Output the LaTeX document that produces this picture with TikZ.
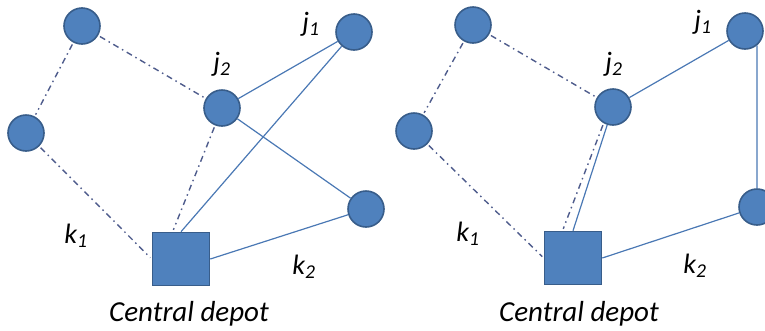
\documentclass[tikz,border=0pt]{standalone}
\usepackage{fontspec}
\setmainfont{Carlito}
\definecolor{NodeClr}{RGB}{79,129,189}
\definecolor{RimClr}{RGB}{56,93,138}
\definecolor{EdgeClr}{RGB}{74,120,180}
\definecolor{TourClr}{RGB}{78,92,140}
\tikzset{
  cust/.style={circle,fill=NodeClr,draw=RimClr,line width=1.6pt,minimum size=36pt,inner sep=0pt},
  depot/.style={rectangle,fill=NodeClr,draw=RimClr,line width=1.6pt,minimum width=57pt,minimum height=53pt,inner sep=0pt},
  route/.style={draw=EdgeClr,line width=1.2pt},
  oldroute/.style={draw=TourClr,line width=1.4pt,dash pattern=on 6pt off 4pt on 1.5pt off 4pt,shorten <=2pt,shorten >=2pt},
  lbl/.style={font=\fontsize{28}{30}\selectfont\itshape,inner sep=0pt},
  depotlbl/.style={font=\fontsize{29}{31}\selectfont\itshape,inner sep=0pt,anchor=base}
}
\begin{document}
\begin{tikzpicture}[x=1pt,y=-1pt]
\useasboundingbox (0,0) rectangle (765,330);

\node[cust] (a1) at (82,26) {};
\node[cust] (b1) at (26,133) {};
\node[cust] (jtwo1) at (222,108) {};
\node[cust] (jone1) at (354,32) {};
\node[cust] (r1) at (366,209) {};
\node[depot] (dep1) at (181,259) {};

\draw[oldroute] (a1) -- (b1);
\draw[oldroute] (a1) -- (jtwo1);
\draw[oldroute] (b1) -- (dep1.west);
\draw[oldroute] (jtwo1) -- (dep1.107);
\draw[route] (jtwo1) -- (jone1);
\draw[route] (jone1) -- (dep1.north);
\draw[route] (jtwo1) -- (r1);
\draw[route] (r1) -- (dep1.east);

\node[lbl] (lj1a) at (311,24) {j\textsubscript{1}};
\node[lbl] (lj2a) at (222,64) {j\textsubscript{2}};
\node[lbl] (lk1a) at (76,236) {k\textsubscript{1}};
\node[lbl] (lk2a) at (304,267) {k\textsubscript{2}};
\node[depotlbl] (capa) at (189,321) {Central depot};

\node[cust] (a2) at (473,25) {};
\node[cust] (b2) at (414,131) {};
\node[cust] (jtwo2) at (613,107) {};
\node[cust] (jone2) at (745,31) {};
\node[cust] (r2) at (757,207) {};
\node[depot] (dep2) at (573,258) {};

\draw[oldroute] (a2) -- (b2);
\draw[oldroute] (a2) -- (jtwo2);
\draw[oldroute] (b2) -- (dep2.west);
\draw[oldroute] (jtwo2.-120) -- (dep2.111);
\draw[route] (jtwo2) -- (dep2.north);
\draw[route] (jtwo2) -- (jone2);
\draw[route] (jone2.-50) -- (r2.north);
\draw[route] (r2) -- (dep2.east);

\node[lbl] (lj1b) at (703,22) {j\textsubscript{1}};
\node[lbl] (lj2b) at (614,64) {j\textsubscript{2}};
\node[lbl] (lk1b) at (468,234) {k\textsubscript{1}};
\node[lbl] (lk2b) at (695,266) {k\textsubscript{2}};
\node[depotlbl] (capb) at (579,321) {Central depot};

\end{tikzpicture}
\end{document}
